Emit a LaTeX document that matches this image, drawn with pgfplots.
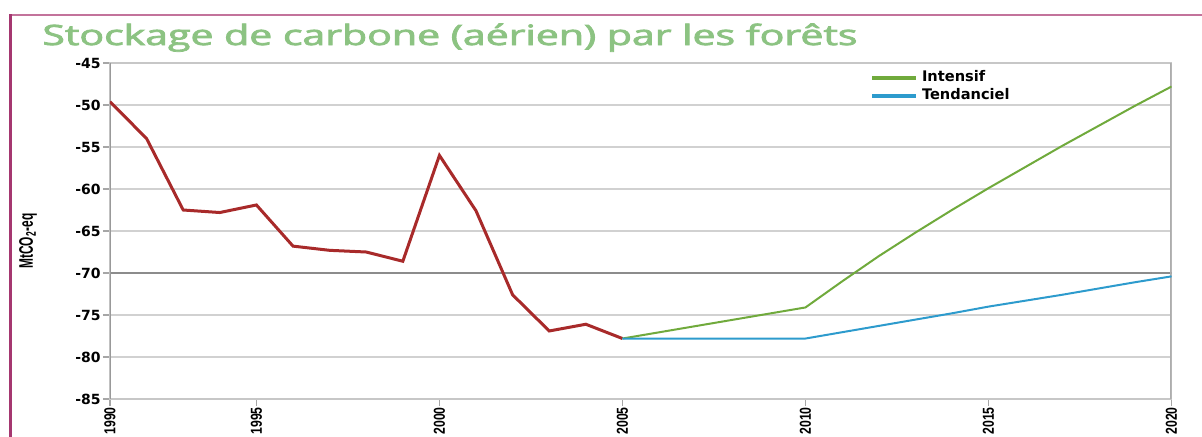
\documentclass[border=0pt]{standalone}
\usepackage{pgfplots}
\pgfplotsset{compat=1.18}
\usepackage{fontspec}
\setmainfont{Liberation Sans}
\newfontfamily\dejavu{DejaVu Sans}
\newfontfamily\opensans[FakeBold=2.5]{Open Sans}
\definecolor{redline}{RGB}{168,42,42}
\definecolor{greenline}{RGB}{112,170,60}
\definecolor{blueline}{RGB}{45,155,205}
\definecolor{titlegreen}{RGB}{140,195,130}
\definecolor{framecol}{RGB}{165,55,112}
\definecolor{framecoltop}{RGB}{195,115,155}
\begin{document}
\begin{tikzpicture}
\useasboundingbox (-55pt,-18.5pt) rectangle (546pt,199.5pt);
\draw[framecoltop, line width=1.1pt] (-49.5pt,192pt) -- (560pt,192pt);
\draw[framecol, line width=1.5pt] (-49.5pt,-25pt) -- (-49.5pt,192.5pt);
\node[anchor=base west, inner sep=0pt, text=titlegreen] at (-34pt,177pt) {\resizebox{407.5pt}{\height}{\fontsize{14}{16}\opensans Stockage de carbone (aérien) par les forêts}};
\begin{axis}[
 at={(0pt,0pt)}, anchor=south west,
 scale only axis, width=530.75pt, height=168pt,
 xmin=0, xmax=29, ymin=-85, ymax=-45,
 xtick={0,4,9,14,19,24,29},
 xticklabels={\scalebox{1}[1.3]{1990},\scalebox{1}[1.3]{1995},\scalebox{1}[1.3]{2000},\scalebox{1}[1.3]{2005},\scalebox{1}[1.3]{2010},\scalebox{1}[1.3]{2015},\scalebox{1}[1.3]{2020}},
 ytick={-85,-80,-75,-70,-65,-60,-55,-50,-45},
 yticklabels={-85,-80,-75,-70,-65,-60,-55,-50,-45},
 xtick pos=bottom, ytick pos=left,
 tick align=outside, major tick length=3.5pt,
 tick style={black!35, line width=0.6pt},
 ymajorgrids, grid style={black!18, line width=0.8pt},
 axis line style={black!22, line width=0.9pt},
 x tick label style={rotate=90, anchor=east, font=\fontsize{6.1}{7}\selectfont\bfseries, inner sep=0.5pt},
 y tick label style={font=\fontsize{7}{8}\selectfont\dejavu\bfseries, inner sep=1pt},
 ylabel={\scalebox{0.85}[1.4]{\bfseries MtCO\textsubscript{2}-eq}},
 ylabel style={at={(axis description cs:-0.0773,0.47)}, anchor=center, font=\fontsize{7}{8}\selectfont},
 legend style={at={(axis description cs:0.716,0.99)}, anchor=north west, draw=none, fill=none, font=\fontsize{7.3}{8}\selectfont\dejavu\bfseries, row sep=-2pt, inner sep=0pt},
 legend cell align=left,
 legend image code/.code={\draw[#1, line width=1.8pt] (0pt,0pt) -- (22pt,0pt);},
]
\draw[black!45, line width=0.6pt] (axis cs:0,-70) -- (axis cs:29,-70);
\draw[black!40, line width=1pt] (rel axis cs:0,0) -- (rel axis cs:0,1);
\draw[black!32, line width=1.2pt] (rel axis cs:1,0) -- (rel axis cs:1,1);
\addplot[redline, line width=1.5pt, forget plot] coordinates {
 (0,-49.6) (1,-54.0) (2,-62.5) (3,-62.8) (4,-61.9) (5,-66.8) (6,-67.3) (7,-67.5)
 (8,-68.6) (9,-56.0) (10,-62.6) (11,-72.6) (12,-76.9) (13,-76.1) (14,-77.8)};
\addplot[greenline, line width=1pt] coordinates {
 (14,-77.8) (15,-77.06) (16,-76.32) (17,-75.58) (18,-74.84) (19,-74.1)
 (20,-71.0) (21,-68.0) (22,-65.2) (23,-62.5) (24,-59.9) (25,-57.4)
 (26,-54.9) (27,-52.5) (28,-50.1) (29,-47.8)};
\addlegendentry{Intensif}
\addplot[blueline, line width=1pt] coordinates {
 (14,-77.8) (15,-77.8) (16,-77.8) (17,-77.8) (18,-77.8) (19,-77.8)
 (20,-77.05) (21,-76.3) (22,-75.55) (23,-74.8) (24,-74.0) (25,-73.3)
 (26,-72.6) (27,-71.85) (28,-71.1) (29,-70.4)};
\addlegendentry{Tendanciel}
\end{axis}
\end{tikzpicture}
\end{document}
